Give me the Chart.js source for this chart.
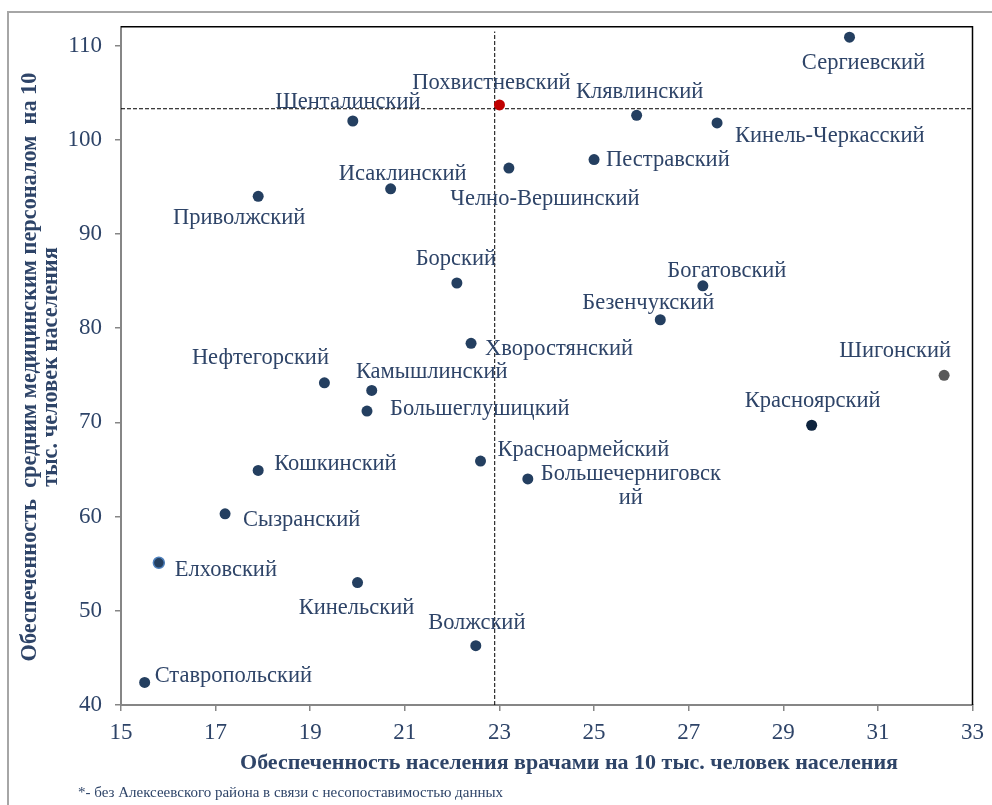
<!DOCTYPE html>
<html>
<head>
<meta charset="utf-8">
<script src="https://cdn.jsdelivr.net/npm/chart.js@4"></script>
<style>
  html, body { margin: 0; padding: 0; background: #fff; }
  #wrap { width: 992px; height: 805px; position: relative; }
</style>
</head>
<body>
<div id="wrap"><canvas id="chart"></canvas></div>
<script>
const districts = ['Сергиевский', 'Похвистневский', 'Клявлинский', 'Кинель-Черкасский', 'Шенталинский',
    'Пестравский', 'Челно-Вершинский', 'Исаклинский', 'Приволжский', 'Борский', 'Богатовский',
    'Безенчукский', 'Хворостянский', 'Шигонский', 'Нефтегорский', 'Камышлинский', 'Большеглушицкий',
    'Красноярский', 'Красноармейский', 'Большечерниговский', 'Кошкинский', 'Сызранский', 'Елховский',
    'Кинельский', 'Волжский', 'Ставропольский'];
const doctors = [30.4, 23.0, 25.9, 27.6, 19.9, 25.0, 23.2, 20.7, 17.9, 22.1, 27.3,
    26.4, 22.4, 32.4, 19.3, 20.3, 20.2, 29.6, 22.6, 23.6, 17.9, 17.2, 15.8,
    20.0, 22.5, 15.5];
const staff = [110.9, 103.7, 102.6, 101.8, 102.0, 97.9, 97.0, 94.8, 94.0, 84.8, 84.5,
    80.9, 78.4, 75.0, 74.2, 73.4, 71.2, 69.7, 65.9, 64.0, 64.9, 60.3, 55.1,
    53.0, 46.3, 42.4];

// средние по области (пунктир)
const avgDoctors = 22.9;
const avgStaff = 103.3;

const xTicks = [15, 17, 19, 21, 23, 25, 27, 29, 31, 33];
const yTicks = [40, 50, 60, 70, 80, 90, 100, 110];

const navy = '#243F60';
const textColor = '#2E4468';
const serif = '"Liberation Serif", "Times New Roman", serif';

// цвет отдельных точек
const special = {
    'Похвистневский': '#C00000',
    'Шигонский': '#595959',
    'Красноярский': '#0F243E'
};

// размещение подписей: [dx, dy, выравнивание]
const labelPos = {
    'Сергиевский': [14, 26, 'center'],
    'Похвистневский': [-8, -22, 'center'],
    'Клявлинский': [3, -23, 'center'],
    'Кинель-Черкасский': [18, 13, 'left'],
    'Шенталинский': [-5, -19, 'center'],
    'Пестравский': [12, 0, 'left'],
    'Челно-Вершинский': [36, 31, 'center'],
    'Исаклинский': [12, -15, 'center'],
    'Приволжский': [-19, 22, 'center'],
    'Борский': [-1, -24, 'center'],
    'Богатовский': [24, -15, 'center'],
    'Безенчукский': [-12, -17, 'center'],
    'Хворостянский': [14, 6, 'left'],
    'Шигонский': [-49, -24, 'center'],
    'Нефтегорский': [-64, -25, 'center'],
    'Камышлинский': [60, -18, 'center'],
    'Большеглушицкий': [23, -2, 'left'],
    'Красноярский': [1, -24, 'center'],
    'Красноармейский': [17, -11, 'left'],
    'Большечерниговский': [103, -5, 'center'],
    'Кошкинский': [16, -6, 'left'],
    'Сызранский': [18, 6, 'left'],
    'Елховский': [16, 7, 'left'],
    'Кинельский': [-1, 26, 'center'],
    'Волжский': [1, -23, 'center'],
    'Ставропольский': [10, -6, 'left']
};

const points = districts.map((d, i) => ({ x: doctors[i], y: staff[i] }));

const pointLabels = {
    id: 'pointLabels',
    afterDatasetsDraw(chart) {
        const ctx = chart.ctx;
        const meta = chart.getDatasetMeta(0);
        ctx.save();
        ctx.font = '22.5px ' + serif;
        ctx.fillStyle = textColor;
        ctx.textBaseline = 'middle';
        meta.data.forEach((el, i) => {
            const name = districts[i];
            const p = labelPos[name];
            ctx.textAlign = p[2];
            if (name === 'Большечерниговский') {
                ctx.fillText('Большечерниговск', el.x + p[0], el.y + p[1]);
                ctx.fillText('ий', el.x + p[0], el.y + p[1] + 24);
            } else {
                ctx.fillText(name, el.x + p[0], el.y + p[1]);
            }
        });
        ctx.restore();
    }
};

const decor = {
    id: 'decor',
    beforeDraw(chart) {
        const ctx = chart.ctx;
        ctx.save();
        ctx.strokeStyle = '#A6A6A6';
        ctx.lineWidth = 2;
        ctx.beginPath();
        ctx.moveTo(8, 805);
        ctx.lineTo(8, 12);
        ctx.lineTo(992, 12);
        ctx.stroke();
        ctx.restore();
    },
    afterDraw(chart) {
        const ctx = chart.ctx;
        const a = chart.chartArea;
        ctx.save();
        // рамка сверху и справа
        ctx.strokeStyle = '#000';
        ctx.lineWidth = 1.5;
        ctx.beginPath();
        ctx.moveTo(a.left, a.top);
        ctx.lineTo(a.right, a.top);
        ctx.lineTo(a.right, a.bottom);
        ctx.stroke();

        ctx.fillStyle = textColor;
        ctx.font = 'bold 22px ' + serif;
        ctx.textAlign = 'center';
        ctx.textBaseline = 'middle';
        ctx.fillText('Обеспеченность населения врачами на 10 тыс. человек населения', 569, 763);

        ctx.save();
        ctx.font = 'bold 22.3px ' + serif;
        ctx.translate(30, 367);
        ctx.rotate(-Math.PI / 2);
        ctx.fillText('Обеспеченность  средним медицинским персоналом  на 10', 0, 0);
        ctx.fillText('тыс. человек населения', 0, 21);
        ctx.restore();

        ctx.font = '15px ' + serif;
        ctx.textAlign = 'left';
        ctx.fillText('*- без Алексеевского района в связи с несопоставимостью данных', 78, 793);
        ctx.restore();
    }
};

new Chart(document.getElementById('chart'), {
    type: 'scatter',
    data: {
        datasets: [{
            data: points,
            order: 0,
            pointRadius: 5.5,
            pointHoverRadius: 5.5,
            pointBackgroundColor: districts.map(d => special[d] || navy),
            pointBorderColor: districts.map(d => d === 'Елховский' ? '#4F81BD' : (special[d] || navy)),
            pointBorderWidth: districts.map(d => d === 'Елховский' ? 1.5 : 0)
        }, {
            type: 'line',
            data: [{ x: 15, y: avgStaff }, { x: 33, y: avgStaff }],
            order: 1,
            borderColor: '#000',
            borderWidth: 1,
            borderDash: [4, 2],
            pointRadius: 0,
            fill: false
        }, {
            type: 'line',
            data: [{ x: avgDoctors, y: 40 }, { x: avgDoctors, y: 111.5 }],
            order: 1,
            borderColor: '#000',
            borderWidth: 1,
            borderDash: [4, 2],
            pointRadius: 0,
            fill: false
        }]
    },
    options: {
        responsive: true,
        maintainAspectRatio: false,
        animation: false,
        layout: { padding: { top: 24, right: 17, left: 0, bottom: 0 } },
        plugins: {
            legend: { display: false },
            tooltip: { enabled: false }
        },
        scales: {
            x: {
                type: 'linear',
                min: 15,
                max: 33,
                afterFit: s => { s.height = 100; },
                afterBuildTicks: s => { s.ticks = xTicks.map(v => ({ value: v })); },
                grid: { drawOnChartArea: false, drawTicks: true, tickLength: 6, color: '#868686', lineWidth: 1.5 },
                border: { color: '#868686', width: 2 },
                ticks: { font: { family: serif, size: 23 }, color: textColor, padding: 8, maxRotation: 0 }
            },
            y: {
                type: 'linear',
                min: 40,
                max: 112,
                afterFit: s => { s.width = 121; },
                afterBuildTicks: s => { s.ticks = yTicks.map(v => ({ value: v })); },
                grid: { drawOnChartArea: false, drawTicks: true, tickLength: 6, color: '#868686', lineWidth: 1.5 },
                border: { color: '#868686', width: 2 },
                ticks: { font: { family: serif, size: 23 }, color: textColor, padding: 13 }
            }
        }
    },
    plugins: [pointLabels, decor]
});
</script>
</body>
</html>
